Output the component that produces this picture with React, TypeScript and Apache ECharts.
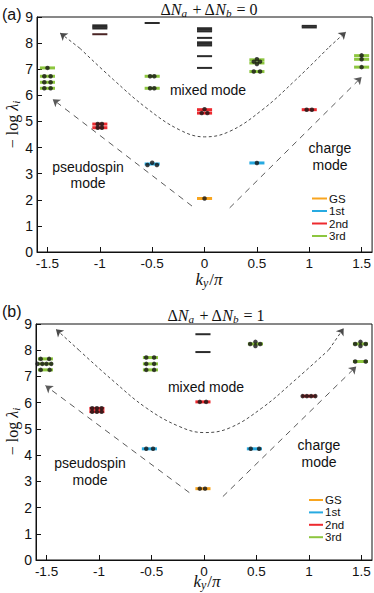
import { useEffect, useRef } from 'react';
import * as echarts from 'echarts';

// ---------------- data ----------------
const xTickValues = [-1.5, -1, -0.5, 0, 0.5, 1, 1.5];
const xTickLabels = ['-1.5', '-1', '-0.5', '0', '0.5', '1', '1.5'];
const levelNames = ['GS', '1st', '2nd', '3rd'];
const panelTags = ['(a)', '(b)'];
const sumValues = ['0', '1'];
const mixedLabel = 'mixed mode';
const pseudoLabel = ['pseudospin', 'mode'];
const chargeLabel = ['charge', 'mode'];

// level bars: [k/pi, -log lambda, type]; type 0 GS, 1 1st, 2 2nd, 3 3rd, 4 higher (black), 5 higher (dark)
const levelsA: number[][] = [
  [-1.5, 7.05, 3], [-1.5, 6.73, 3], [-1.5, 6.5, 3], [-1.5, 6.27, 3],
  [-1, 8.68, 4], [-1, 8.62, 4], [-1, 8.56, 4], [-1, 8.34, 5],
  [-1, 4.9, 2], [-1, 4.76, 2],
  [-0.5, 8.77, 4], [-0.5, 6.73, 3], [-0.5, 6.27, 3], [-0.5, 3.37, 1],
  [0, 8.57, 4], [0, 8.51, 4], [0, 8.45, 4], [0, 8.2, 4], [0, 8.03, 4], [0, 7.97, 4], [0, 7.91, 4],
  [0, 7.5, 4], [0, 7.05, 4],
  [0, 5.45, 2], [0, 5.32, 2], [0, 2.05, 0],
  [0.5, 7.36, 3], [0.5, 7.24, 3], [0.5, 6.91, 3], [0.5, 3.41, 1],
  [1, 8.66, 4], [1, 8.6, 4], [1, 5.45, 2],
  [1.5, 7.52, 3], [1.5, 7.38, 3], [1.5, 7.08, 3],
];
const dotsA: number[][] = [
  [-1.5, 7.05], [-1.53, 6.73], [-1.47, 6.73], [-1.53, 6.5], [-1.47, 6.5], [-1.53, 6.27], [-1.47, 6.27],
  [-1.02, 4.9], [-0.98, 4.9], [-1.02, 4.76], [-0.98, 4.76],
  [-0.52, 6.73], [-0.48, 6.73], [-0.52, 6.27], [-0.48, 6.27],
  [-0.545, 3.33], [-0.5, 3.42], [-0.455, 3.33],
  [0, 5.47], [-0.027, 5.32], [0.027, 5.32],
  [0, 2.05],
  [0.5, 7.38], [0.47, 7.29], [0.53, 7.29], [0.5, 7.2], [0.47, 6.91], [0.53, 6.91],
  [0.5, 3.41],
  [0.975, 5.45], [1.025, 5.45],
  [1.5, 7.53], [1.5, 7.38], [1.5, 7.08],
];
const levelsB: number[][] = [
  [-1.51, 7.67, 3], [-1.51, 7.48, 3], [-1.51, 7.25, 3],
  [-1.02, 5.78, 2], [-1.02, 5.66, 2],
  [-0.51, 7.72, 3], [-0.51, 7.48, 3], [-0.51, 7.25, 3], [-0.52, 4.24, 1],
  [-0.01, 8.61, 4], [-0.01, 7.93, 4], [-0.01, 6.03, 2], [-0.01, 2.72, 0],
  [0.49, 8.24, 3], [0.48, 4.24, 1],
  [1, 6.25, 2],
  [1.49, 8.24, 3], [1.49, 7.57, 3],
];
const dotsB: number[][] = [
  [-1.555, 7.67], [-1.475, 7.67],
  [-1.585, 7.48], [-1.54, 7.48], [-1.5, 7.48], [-1.455, 7.48],
  [-1.555, 7.25], [-1.47, 7.25],
  [-1.065, 5.79], [-1.02, 5.79], [-0.975, 5.79], [-1.065, 5.65], [-1.02, 5.65], [-0.975, 5.65],
  [-0.55, 7.72], [-0.475, 7.72], [-0.55, 7.48], [-0.475, 7.48], [-0.55, 7.25], [-0.475, 7.25],
  [-0.55, 4.24], [-0.485, 4.24],
  [-0.04, 6.03], [0.02, 6.03],
  [-0.04, 2.72], [0.01, 2.72],
  [0.44, 8.24], [0.49, 8.32], [0.49, 8.16], [0.535, 8.24],
  [0.445, 4.24], [0.525, 4.24],
  [0.94, 6.25], [0.98, 6.25], [1.02, 6.25], [1.06, 6.25],
  [1.44, 8.24], [1.49, 8.32], [1.49, 8.16], [1.54, 8.24],
  [1.44, 7.57], [1.54, 7.57],
];
// straight guides: [start, arrow end]
const guidesA: number[][][] = [
  [[-0.12, 1.76], [-1.45, 5.85]],
  [[0.24, 1.69], [1.5, 6.7]],
];
const guidesB: number[][][] = [
  [[-0.14, 2.57], [-1.51, 6.65]],
  [[0.18, 2.42], [1.45, 7.38]],
];
// curved guide, arrow at both ends
const curveA: number[][] = [
  [-1.38, 8.39], [-1.19, 7.8], [-0.87, 6.6], [-0.55, 5.5], [-0.24, 4.68], [0, 4.41],
  [0.24, 4.62], [0.55, 5.44], [0.87, 6.59], [1.19, 7.85], [1.35, 8.43],
];
const curveB: number[][] = [
  [-1.41, 8.8], [-1.19, 8.0], [-0.87, 6.85], [-0.55, 5.8], [-0.24, 5.1], [0, 4.86],
  [0.24, 5.03], [0.55, 5.79], [0.87, 6.87], [1.19, 8.02], [1.33, 8.84],
];

// ---------------- styles ----------------
const typeColors = ['#f8a51f', '#27aae1', '#ed2a2f', '#8dc63f', '#2b2b2b', '#4a2424'];
const SANS = 'Liberation Sans, Arial, sans-serif';
const SERIF = 'Liberation Serif, Times New Roman, serif';
const HALF = 0.072;

const grids = [
  { left: 37, top: 17, width: 336, height: 235 },
  { left: 36, top: 324, width: 336, height: 236 },
];

function mathRich(size: number) {
  return {
    r: { fontFamily: SERIF, fontSize: size, fill: '#111' },
    i: { fontFamily: SERIF, fontStyle: 'italic', fontSize: size, fill: '#111' },
    s: { fontFamily: SERIF, fontStyle: 'italic', fontSize: size * 0.7, fill: '#111', padding: [size * 0.5, 1, 0, 0] },
  };
}

function panelSeries(p: number, levels: number[][], dots: number[][], guides: number[][][], curve: number[][]) {
  const n = curve.length;
  return [
    {
      type: 'lines', coordinateSystem: 'cartesian2d', xAxisIndex: p, yAxisIndex: p,
      data: guides.map((c) => ({ coords: c })),
      symbol: ['none', 'arrow'], symbolSize: [0, 7],
      lineStyle: { color: '#5a5a5a', width: 1, type: [6, 5], opacity: 1 },
      silent: true, z: 1,
    },
    {
      type: 'line', xAxisIndex: p, yAxisIndex: p, data: curve.slice(1, n - 1),
      smooth: 0.4, showSymbol: false, symbol: 'none',
      lineStyle: { color: '#4a4a4a', width: 1, type: [3, 2.5] }, silent: true, z: 1,
    },
    {
      type: 'lines', coordinateSystem: 'cartesian2d', xAxisIndex: p, yAxisIndex: p,
      data: [{ coords: [curve[1], curve[0]] }, { coords: [curve[n - 2], curve[n - 1]] }],
      symbol: ['none', 'arrow'], symbolSize: [0, 7],
      lineStyle: { color: '#4a4a4a', width: 1, type: [3, 2.5], opacity: 1 },
      silent: true, z: 1,
    },
    {
      type: 'custom', xAxisIndex: p, yAxisIndex: p, data: levels, encode: { x: 0, y: 1 },
      renderItem: (_params: any, api: any) => {
        const k = api.value(0), v = api.value(1), t = api.value(2);
        const a = api.coord([k - HALF, v]);
        const b = api.coord([k + HALF, v]);
        return {
          type: 'line',
          shape: { x1: a[0], y1: a[1], x2: b[0], y2: b[1] },
          style: { stroke: typeColors[t], lineWidth: t >= 4 ? 2 : 3 },
        };
      },
      silent: true, z: 2,
    },
    {
      type: 'scatter', xAxisIndex: p, yAxisIndex: p, data: dots,
      symbol: 'circle', symbolSize: 4.5, itemStyle: { color: '#151515' }, silent: true, z: 3,
    },
  ];
}

function panelGraphics(p: number) {
  const g: any[] = [];
  const tagPos = [[2, 14], [2, 311]][p];
  g.push({ type: 'text', x: tagPos[0], y: tagPos[1], style: { text: panelTags[p], font: `16px ${SANS}`, fill: '#111', verticalAlign: 'middle', align: 'left' } });
  const titlePos = [[209, 9], [216, 315]][p];
  g.push({
    type: 'text', x: titlePos[0], y: titlePos[1],
    style: {
      text: `{r|Δ}{i|N}{s|a}{r| + Δ}{i|N}{s|b}{r| = ${sumValues[p]}}`,
      rich: mathRich(16), align: 'center', verticalAlign: 'middle',
    },
  });
  const ylPos = [[12, 124], [12, 431]][p];
  g.push({
    type: 'text', x: ylPos[0], y: ylPos[1], rotation: Math.PI / 2,
    style: { text: '{r|− log }{i|λ}{s|i}', rich: mathRich(16), align: 'center', verticalAlign: 'middle' },
  });
  const xlPos = [[209, 279], [207, 581]][p];
  g.push({
    type: 'text', x: xlPos[0], y: xlPos[1],
    style: { text: '{i|k}{s|y}{r|/}{i|π}', rich: mathRich(17), align: 'center', verticalAlign: 'middle' },
  });
  const mixed = [[208, 90], [206, 387]][p];
  g.push({ type: 'text', x: mixed[0], y: mixed[1], style: { text: mixedLabel, font: `14px ${SANS}`, fill: '#111', align: 'center', verticalAlign: 'middle' } });
  const pseudo = [[88, 167, 183], [90, 463, 480]][p];
  g.push({ type: 'text', x: pseudo[0], y: pseudo[1], style: { text: pseudoLabel[0], font: `14px ${SANS}`, fill: '#111', align: 'center', verticalAlign: 'middle' } });
  g.push({ type: 'text', x: pseudo[0], y: pseudo[2], style: { text: pseudoLabel[1], font: `14px ${SANS}`, fill: '#111', align: 'center', verticalAlign: 'middle' } });
  const charge = [[330, 148, 165], [319, 445, 462]][p];
  g.push({ type: 'text', x: charge[0], y: charge[1], style: { text: chargeLabel[0], font: `14px ${SANS}`, fill: '#111', align: 'center', verticalAlign: 'middle' } });
  g.push({ type: 'text', x: charge[0], y: charge[2], style: { text: chargeLabel[1], font: `14px ${SANS}`, fill: '#111', align: 'center', verticalAlign: 'middle' } });
  const lg = [[312, 327, 198.5, 12.5], [309, 323, 500, 12.4]][p];
  levelNames.forEach((name, i) => {
    const y = lg[2] + i * lg[3];
    g.push({ type: 'line', shape: { x1: lg[0], y1: y, x2: lg[1], y2: y }, style: { stroke: typeColors[i], lineWidth: 2 } });
    g.push({ type: 'text', x: lg[1] + 2, y, style: { text: name, fontFamily: SANS, fontSize: 11.5, lineHeight: 11, fill: '#111', align: 'left', verticalAlign: 'middle' } });
  });
  return g;
}

export default function App() {
  const ref = useRef<HTMLDivElement>(null);
  useEffect(() => {
    document.body.style.margin = '0';
    if (!ref.current) return;
    const chart = echarts.init(ref.current, undefined, { renderer: 'svg' });
    const xAxis = [0, 1].map((i) => ({
      type: 'value', gridIndex: i, min: -1.6, max: 1.6, position: 'bottom',
      axisLine: { show: true, onZero: false, lineStyle: { color: '#111', width: 1 } },
      axisTick: { show: true, inside: true, length: 5, customValues: xTickValues, lineStyle: { color: '#111' } },
      axisLabel: {
        show: true, customValues: xTickValues, margin: 4, fontSize: 13.5, fontFamily: SANS, color: '#111',
        formatter: (v: number) => xTickLabels[xTickValues.indexOf(v)] ?? String(v),
      },
      splitLine: { show: false },
    }));
    const yAxis = [0, 1].map((i) => ({
      type: 'value', gridIndex: i, min: 0, max: 9, interval: 1, position: 'left',
      axisLine: { show: true, onZero: false, lineStyle: { color: '#111', width: 1 } },
      axisTick: { show: true, inside: true, length: 5, lineStyle: { color: '#111' } },
      axisLabel: { margin: 4, fontSize: 14, fontFamily: SANS, color: '#111' },
      splitLine: { show: false },
    }));
    chart.setOption({
      animation: false,
      backgroundColor: '#fff',
      grid: grids.map((g) => ({ ...g, show: true, borderColor: '#111', borderWidth: 1, backgroundColor: 'transparent' })),
      xAxis,
      yAxis,
      series: [
        ...panelSeries(0, levelsA, dotsA, guidesA, curveA),
        ...panelSeries(1, levelsB, dotsB, guidesB, curveB),
      ],
      graphic: [...panelGraphics(0), ...panelGraphics(1)],
    });
    return () => chart.dispose();
  }, []);
  return <div ref={ref} style={{ width: 374, height: 593 }} />;
}
